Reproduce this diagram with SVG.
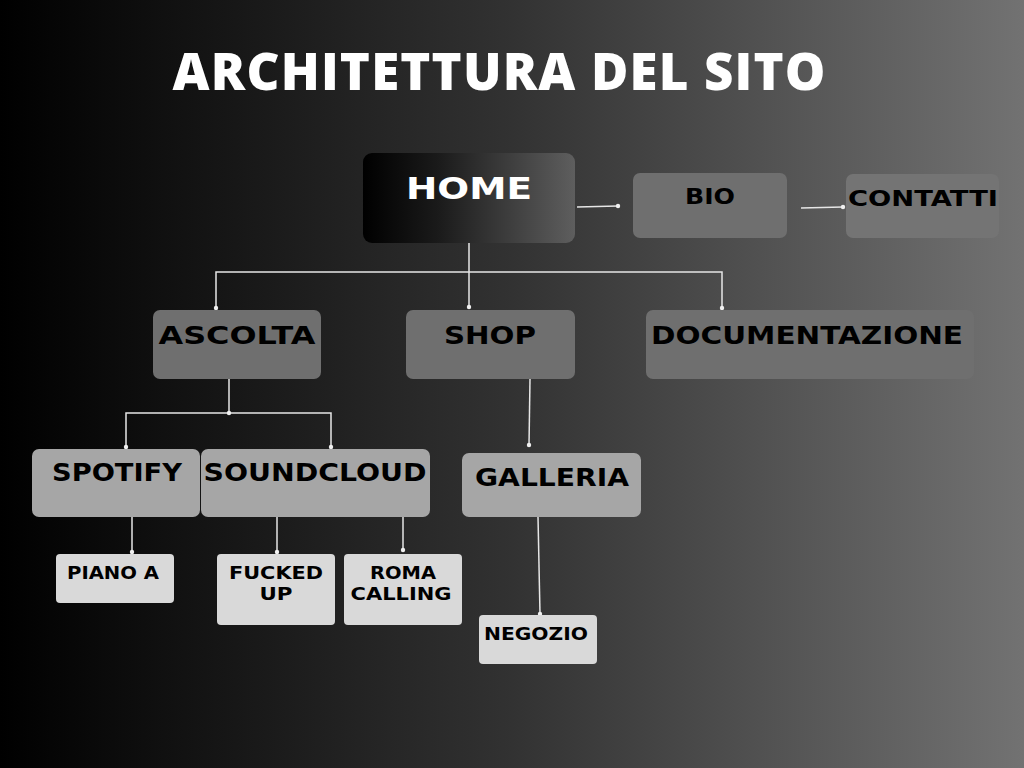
<svg xmlns="http://www.w3.org/2000/svg" width="1024" height="768" viewBox="0 0 1024 768">
<defs>
<linearGradient id="bg" x1="0" y1="0" x2="1" y2="0">
<stop offset="0" stop-color="#000000"/>
<stop offset="0.5" stop-color="#323232"/>
<stop offset="1" stop-color="#727272"/>
</linearGradient>
<linearGradient id="homeg" x1="0" y1="0" x2="1" y2="0">
<stop offset="0" stop-color="#000000"/>
<stop offset="0.35" stop-color="#1a1a1a"/>
<stop offset="1" stop-color="#5e5e5e"/>
</linearGradient>
<style>
.t{font-family:"DejaVu Sans","Liberation Sans",sans-serif;font-weight:bold;fill:#000;}
.lvl1{fill:#6f6f6f;}
.lvl2{fill:#a6a6a6;}
.lvl3{fill:#d9d9d9;}
.ln{stroke:#e6e6e6;stroke-width:1.5;fill:none;}
.dot{fill:#f0f0f0;}
</style>
</defs>
<rect x="0" y="0" width="1024" height="768" fill="url(#bg)"/>
<text x="499" y="90" text-anchor="middle" font-family="'Open Sans','Lato',sans-serif" font-weight="800" font-size="51" fill="#ffffff" textLength="653" lengthAdjust="spacing">ARCHITETTURA DEL SITO</text>

<g id="connectors">
<path class="ln" d="M577 207 L618 206"/>
<circle class="dot" cx="618" cy="206" r="2.2"/>
<path class="ln" d="M801 208 L843 207"/>
<circle class="dot" cx="843" cy="207" r="2.2"/>
<path class="ln" d="M469 243 V307 M469 272 H216 V308 M469 272 H722 V308"/>
<circle class="dot" cx="216" cy="308" r="2.2"/>
<circle class="dot" cx="469" cy="307" r="2.2"/>
<circle class="dot" cx="722" cy="308" r="2.2"/>
<path class="ln" d="M229 379 V413 M126 447 V413 H331 V447"/>
<circle class="dot" cx="229" cy="413" r="2.2"/>
<circle class="dot" cx="126" cy="447" r="2.2"/>
<circle class="dot" cx="331" cy="447" r="2.2"/>
<path class="ln" d="M530 379 L529 445"/>
<circle class="dot" cx="529" cy="445" r="2.2"/>
<path class="ln" d="M132 517 V552"/>
<circle class="dot" cx="132" cy="552" r="2.2"/>
<path class="ln" d="M277 517 V552"/>
<circle class="dot" cx="277" cy="552" r="2.2"/>
<path class="ln" d="M403 517 V550"/>
<circle class="dot" cx="403" cy="550" r="2.2"/>
<path class="ln" d="M538 517 L540 614"/>
<circle class="dot" cx="540" cy="614" r="2.2"/>
</g>

<g id="home">
<rect x="363" y="153" width="212" height="90" rx="9" fill="url(#homeg)"/>
<text class="t" x="469" y="199" text-anchor="middle" font-size="31" style="fill:#ffffff" textLength="126" lengthAdjust="spacingAndGlyphs">HOME</text>
</g>
<g id="bio">
<rect class="lvl1" x="633" y="173" width="154" height="65" rx="7"/>
<text class="t" x="710" y="204" text-anchor="middle" font-size="21" textLength="50" lengthAdjust="spacingAndGlyphs">BIO</text>
</g>
<g id="contatti">
<rect x="846" y="174" width="153" height="64" rx="7" fill="#747474"/>
<text class="t" x="923" y="206" text-anchor="middle" font-size="22" textLength="150" lengthAdjust="spacingAndGlyphs">CONTATTI</text>
</g>
<g id="ascolta">
<rect class="lvl1" x="153" y="310" width="168" height="69" rx="7"/>
<text class="t" x="237" y="344" text-anchor="middle" font-size="25" textLength="157" lengthAdjust="spacingAndGlyphs">ASCOLTA</text>
</g>
<g id="shop">
<rect class="lvl1" x="406" y="310" width="169" height="69" rx="7"/>
<text class="t" x="490" y="344" text-anchor="middle" font-size="25" textLength="92" lengthAdjust="spacingAndGlyphs">SHOP</text>
</g>
<g id="documentazione">
<rect class="lvl1" x="646" y="310" width="328" height="69" rx="7"/>
<text class="t" x="807" y="344" text-anchor="middle" font-size="25" textLength="312" lengthAdjust="spacingAndGlyphs">DOCUMENTAZIONE</text>
</g>
<g id="spotify">
<rect class="lvl2" x="32" y="449" width="168" height="68" rx="7"/>
<text class="t" x="117" y="481" text-anchor="middle" font-size="24" textLength="130" lengthAdjust="spacingAndGlyphs">SPOTIFY</text>
</g>
<g id="soundcloud">
<rect class="lvl2" x="201" y="449" width="229" height="68" rx="7"/>
<text class="t" x="315" y="481" text-anchor="middle" font-size="24" textLength="223" lengthAdjust="spacingAndGlyphs">SOUNDCLOUD</text>
</g>
<g id="galleria">
<rect class="lvl2" x="462" y="453" width="179" height="64" rx="7"/>
<text class="t" x="552" y="486" text-anchor="middle" font-size="24" textLength="154" lengthAdjust="spacingAndGlyphs">GALLERIA</text>
</g>
<g id="piano-a">
<rect class="lvl3" x="56" y="554" width="118" height="49" rx="4"/>
<text class="t" x="113" y="579" text-anchor="middle" font-size="17" textLength="92" lengthAdjust="spacingAndGlyphs">PIANO A</text>
</g>
<g id="fucked-up">
<rect class="lvl3" x="217" y="554" width="118" height="71" rx="4"/>
<text class="t" x="276" y="579" text-anchor="middle" font-size="17" textLength="94" lengthAdjust="spacingAndGlyphs">FUCKED</text>
<text class="t" x="276" y="600" text-anchor="middle" font-size="17" textLength="33" lengthAdjust="spacingAndGlyphs">UP</text>
</g>
<g id="roma-calling">
<rect class="lvl3" x="344" y="554" width="118" height="71" rx="4"/>
<text class="t" x="403" y="579" text-anchor="middle" font-size="17" textLength="66" lengthAdjust="spacingAndGlyphs">ROMA</text>
<text class="t" x="401" y="600" text-anchor="middle" font-size="17" textLength="101" lengthAdjust="spacingAndGlyphs">CALLING</text>
</g>
<g id="negozio">
<rect class="lvl3" x="479" y="615" width="118" height="49" rx="4"/>
<text class="t" x="536" y="640" text-anchor="middle" font-size="17" textLength="104" lengthAdjust="spacingAndGlyphs">NEGOZIO</text>
</g>
</svg>
